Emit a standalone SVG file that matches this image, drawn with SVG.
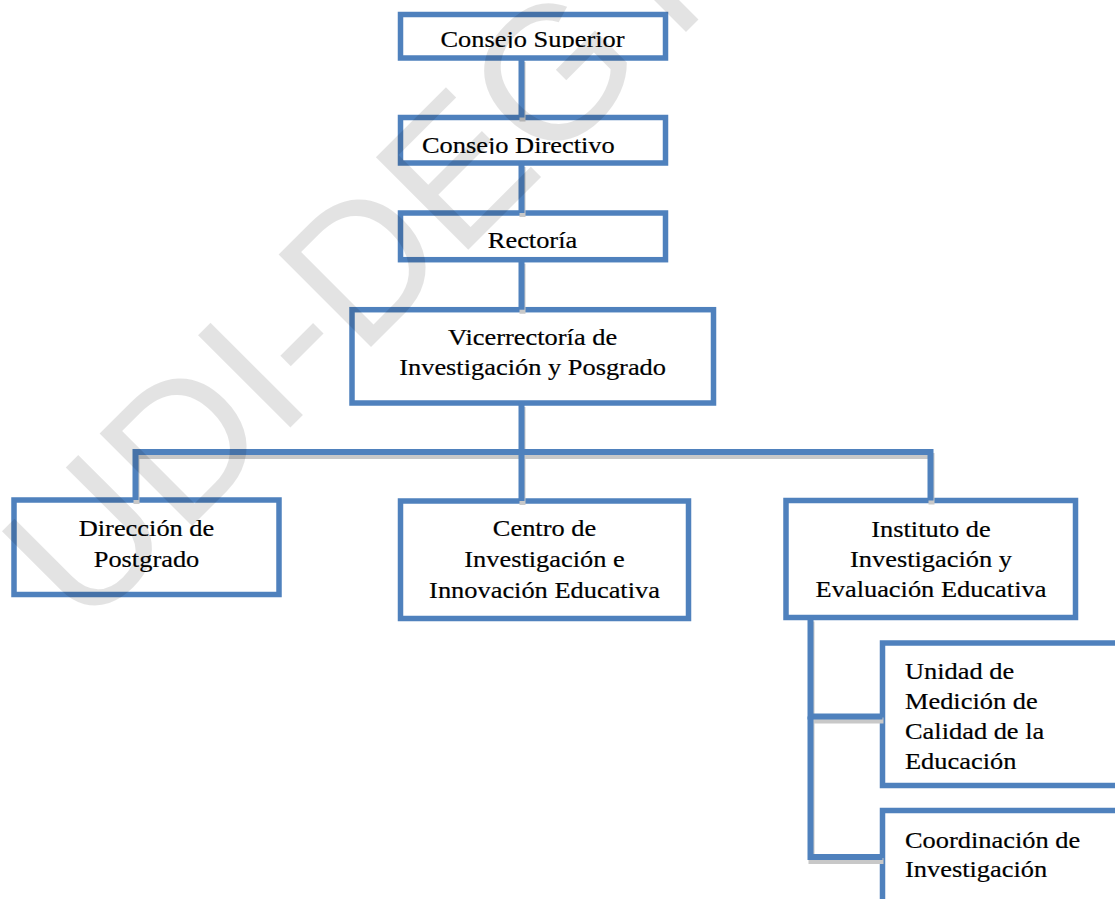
<svg xmlns="http://www.w3.org/2000/svg" width="1115" height="899" viewBox="0 0 1115 899">
  <style>
    .box { fill: #ffffff; stroke: #4f81bd; stroke-width: 5.5; }
    .conn { fill: none; stroke: #4f81bd; stroke-width: 6; }
    .shadow { fill: none; stroke: #c8c8c8; stroke-width: 6; }
  </style>
  <defs>
    <clipPath id="clipSup"><rect x="403" y="17" width="260" height="31"/></clipPath>
    <clipPath id="clipDir"><rect x="403" y="120" width="260" height="34"/></clipPath>
    <clipPath id="clipRec"><rect x="403" y="216" width="260" height="33"/></clipPath>
  </defs>
  <rect width="1115" height="899" fill="#ffffff"/>

  <g id="nodes" font-family="Liberation Serif, Times New Roman, serif" font-size="24" fill="#000000" stroke="#000000" stroke-width="0.2">
  <g id="n-consejo-superior">
    <rect class="box" x="400.5" y="14.5" width="265" height="43.5"/>
    <g clip-path="url(#clipSup)">
      <text text-anchor="middle" transform="translate(532.5,46.5) scale(1.1,1)">Consejo Superior</text>
    </g>
  </g>
  <g id="n-consejo-directivo">
    <rect class="box" x="400.5" y="117.5" width="265" height="45.5"/>
    <g clip-path="url(#clipDir)">
      <text transform="translate(422,152.7) scale(1.1,1)">Consejo Directivo</text>
    </g>
  </g>
  <g id="n-rectoria">
    <rect class="box" x="400.5" y="213" width="265" height="46.7"/>
    <g clip-path="url(#clipRec)">
      <text text-anchor="middle" transform="translate(532.5,248) scale(1.1,1)">Rectoría</text>
    </g>
  </g>
  <g id="n-vicerrectoria">
    <rect class="box" x="352" y="309.7" width="361.5" height="93.3"/>
    <text text-anchor="middle" transform="translate(532.6,345) scale(1.1,1)"><tspan x="0" y="0">Vicerrectoría de</tspan><tspan x="0" y="30.5">Investigación y Posgrado</tspan></text>
  </g>
  <g id="n-direccion-postgrado">
    <rect class="box" x="14" y="500" width="265" height="94.5"/>
    <text text-anchor="middle" transform="translate(146.5,536) scale(1.1,1)"><tspan x="0" y="0">Dirección de</tspan><tspan x="0" y="31.3">Postgrado</tspan></text>
  </g>
  <g id="n-centro">
    <rect class="box" x="400.5" y="501" width="288" height="117.5"/>
    <text text-anchor="middle" transform="translate(544.5,536) scale(1.1,1)"><tspan x="0" y="0">Centro de</tspan><tspan x="0" y="31">Investigación e</tspan><tspan x="0" y="62">Innovación Educativa</tspan></text>
  </g>
  <g id="n-instituto">
    <rect class="box" x="786" y="500.5" width="289.5" height="117"/>
    <text text-anchor="middle" transform="translate(931,536.5) scale(1.1,1)"><tspan x="0" y="0">Instituto de</tspan><tspan x="0" y="31">Investigación y</tspan><tspan x="0" y="61">Evaluación Educativa</tspan></text>
  </g>
  <g id="n-unidad">
    <rect class="box" x="882.5" y="643" width="240" height="142.5"/>
    <text transform="translate(905,678.8) scale(1.1,1)"><tspan x="0" y="0">Unidad de</tspan><tspan x="0" y="30.2">Medición de</tspan><tspan x="0" y="60.4">Calidad de la</tspan><tspan x="0" y="90.6">Educación</tspan></text>
  </g>
  <g id="n-coordinacion">
    <rect class="box" x="882.5" y="810.5" width="240" height="100"/>
    <text transform="translate(905,847.7) scale(1.1,1)"><tspan x="0" y="0">Coordinación de</tspan><tspan x="0" y="29.6">Investigación</tspan></text>
  </g>
  </g>

  <g id="connectors">
    <g transform="translate(1,4)">
      <path class="shadow" d="M521.5,58 V117.5 M521.5,163 V213 M521.5,259.7 V309.7 M521.5,403 V501 M135.5,500 V452 H930.5 V500.5 M810.5,617.5 V716.5 H882.5 M810.5,716.5 V857 H882.5"/>
    </g>
    <path class="conn" d="M521.5,58 V117.5"/>
    <path class="conn" d="M521.5,163 V213"/>
    <path class="conn" d="M521.5,259.7 V309.7"/>
    <path class="conn" d="M521.5,403 V501"/>
    <path class="conn" d="M135.5,500 V452 H930.5 V500.5"/>
    <path class="conn" d="M810.5,617.5 V716.5 H882.5"/>
    <path class="conn" d="M810.5,716.5 V857 H882.5"/>
  </g>

  <text id="watermark" font-family="Liberation Sans, Arial, sans-serif" font-size="190" fill="#000000" fill-opacity="0.11" transform="translate(84,634) rotate(-45)">UDI-DEGT</text>
</svg>
